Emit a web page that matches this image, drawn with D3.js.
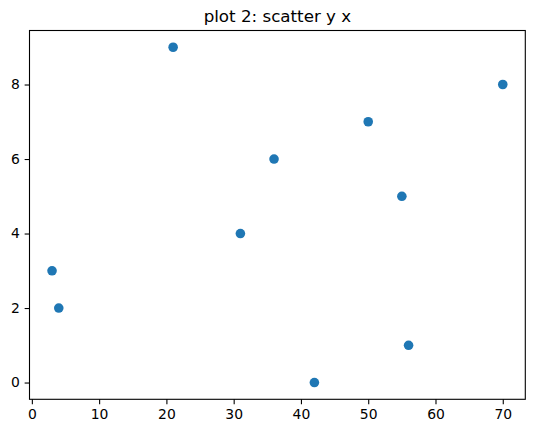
<!DOCTYPE html>
<html>
<head>
<meta charset="utf-8">
<script src="https://cdn.jsdelivr.net/npm/d3@7"></script>
<style>
    body { margin: 0; background: #fff; }
    text { font-family: "DejaVu Sans", sans-serif; fill: #000; }
</style>
</head>
<body>
<div id="chart"></div>
<script>
// data
var xValues = [21, 70, 50, 36, 55, 31, 3, 4, 56, 42];
var yValues = [9, 8, 7, 6, 5, 4, 3, 2, 1, 0];
var xTicks = [0, 10, 20, 30, 40, 50, 60, 70];
var yTicks = [0, 2, 4, 6, 8];
var title = 'plot 2: scatter y x';

(function() {
    'use strict';
    var width, height, left, top, right, bottom, svg, x, y, xAxis, yAxis, i, points;

    width = 534;
    height = 433;
    left = 29.5;
    top = 30.5;
    right = 525.3;
    bottom = 399.3;

    svg = d3.select('#chart').append('svg')
        .attr('width', width)
        .attr('height', height);

    x = d3.scaleLinear().domain([-0.35, 73.35]).range([left, right]);
    y = d3.scaleLinear().domain([-0.45, 9.45]).range([bottom, top]);

    // Axes
    xAxis = d3.axisBottom(x).tickValues(xTicks).tickSize(4.86).tickPadding(4.86).tickFormat(d3.format('d'));
    yAxis = d3.axisLeft(y).tickValues(yTicks).tickSize(4.86).tickPadding(4.86).tickFormat(d3.format('d'));

    svg.append('g')
        .attr('transform', 'translate(0,' + bottom + ')')
        .call(xAxis)
        .call(function(g) { g.select('.domain').remove(); });
    svg.append('g')
        .attr('transform', 'translate(' + left + ',0)')
        .call(yAxis)
        .call(function(g) { g.select('.domain').remove(); });

    svg.selectAll('.tick line')
        .attr('stroke', 'black')
        .attr('stroke-width', 1.1);
    svg.selectAll('.tick text')
        .attr('font-family', '"DejaVu Sans", sans-serif')
        .attr('font-size', 13.9)
        .attr('fill', 'black');

    // Frame
    svg.append('rect')
        .attr('x', left)
        .attr('y', top)
        .attr('width', right - left)
        .attr('height', bottom - top)
        .attr('fill', 'none')
        .attr('stroke', 'black')
        .attr('stroke-width', 1.1);

    // Points
    points = [];
    for (i = 0; i < xValues.length; i++) {
        points.push({x: xValues[i], y: yValues[i]});
    }
    svg.selectAll('circle.pt')
        .data(points)
        .enter().append('circle')
        .attr('class', 'pt')
        .attr('cx', function(d) { return x(d.x); })
        .attr('cy', function(d) { return y(d.y); })
        .attr('r', 4.8)
        .attr('fill', '#1f77b4');

    // Title
    svg.append('text')
        .attr('x', (left + right) / 2)
        .attr('y', top - 8.5)
        .attr('text-anchor', 'middle')
        .attr('font-size', 16.7)
        .text(title);
}());
</script>
</body>
</html>
